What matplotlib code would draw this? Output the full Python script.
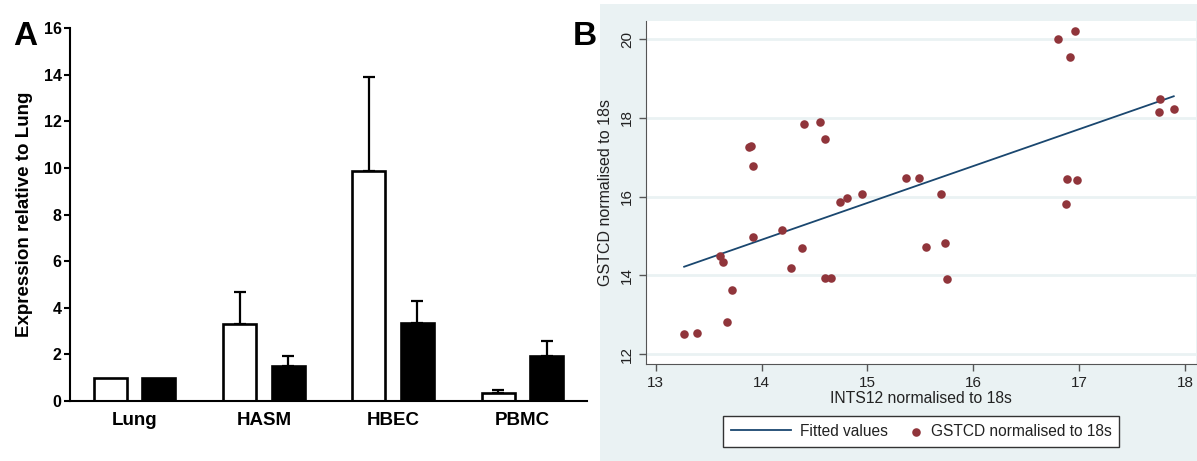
import numpy as np
import matplotlib.pyplot as plt
from matplotlib.patches import Rectangle
from matplotlib.collections import PathCollection
from matplotlib.legend_handler import HandlerPathCollection

plt.rcParams['font.family'] = ['Liberation Sans', 'DejaVu Sans']

# Panel A data
cells = ['Lung', 'HASM', 'HBEC', 'PBMC']
white_vals = [1.0, 3.30, 9.87, 0.36]
white_err = [0.0, 1.37, 4.06, 0.13]
black_vals = [1.0, 1.50, 3.37, 1.93]
black_err = [0.0, 0.45, 0.93, 0.63]

# Panel B data
ints12 = [13.27, 13.39, 13.67, 13.72, 13.61, 13.64, 13.88, 13.90, 13.92, 13.92,
          14.19, 14.28, 14.38, 14.40, 14.55, 14.60, 14.60, 14.66, 14.74, 14.81,
          14.95, 15.36, 15.49, 15.55, 15.69, 15.73, 15.75, 16.80, 16.91, 16.96,
          16.88, 16.98, 16.87, 17.76, 17.75, 17.89]
gstcd = [12.51, 12.54, 12.81, 13.64, 14.48, 14.35, 17.25, 17.30, 16.79, 14.97,
         15.15, 14.18, 14.69, 17.84, 17.91, 17.47, 13.93, 13.93, 15.86, 15.97,
         16.06, 16.47, 16.48, 14.72, 16.08, 14.82, 13.90, 20.00, 19.56, 20.20,
         16.46, 16.43, 15.82, 18.48, 18.16, 18.22]

W, H = 1197, 461
fig = plt.figure(figsize=(W / 100, H / 100), dpi=100)

def px(x0, y0, x1, y1):
    return [x0 / W, 1 - y1 / H, (x1 - x0) / W, (y1 - y0) / H]


class RightMarker(HandlerPathCollection):
    # put the dot at the right end of the handle box, next to its text
    def get_xdata(self, legend, xdescent, ydescent, width, height, fontsize):
        return [-xdescent, -xdescent + width], [-xdescent + width - 0.35 * fontsize]


# ---- Panel A ----
ax1 = fig.add_axes(px(70, 28.3, 587, 401))
x = np.arange(len(cells))
bw = 0.256
off = 0.188
ax1.bar(x - off, white_vals, bw, color='white', edgecolor='black', linewidth=1.9, zorder=2)
ax1.bar(x + off, black_vals, bw, color='black', edgecolor='black', linewidth=1.9, zorder=2)
for xi, v, e in zip(x - off, white_vals, white_err):
    if e > 0:
        ax1.errorbar(xi, v, yerr=[[0], [e]], color='black', lw=1.6, capsize=4.5,
                     capthick=1.6, zorder=1)
for xi, v, e in zip(x + off, black_vals, black_err):
    if e > 0:
        ax1.errorbar(xi, v, yerr=[[0], [e]], color='black', lw=1.6, capsize=4.5,
                     capthick=1.6, zorder=1)
ax1.set_xlim(-0.5, 3.5)
ax1.set_ylim(0, 16)
ax1.set_yticks(range(0, 17, 2))
ax1.set_xticks(x)
ax1.set_xticklabels(cells, fontsize=13.5, fontweight='bold')
ax1.tick_params(axis='x', length=0, pad=8)
ax1.tick_params(axis='y', length=4, width=1.5, labelsize=11.5, pad=2)
for lab in ax1.get_yticklabels():
    lab.set_fontweight('bold')
ax1.spines['top'].set_visible(False)
ax1.spines['right'].set_visible(False)
ax1.spines['left'].set_linewidth(1.5)
ax1.spines['bottom'].set_linewidth(1.5)
ax1.set_ylabel('Expression relative to Lung', fontsize=13.5, fontweight='bold', labelpad=8)
fig.text(13 / W, 1 - 45 / H, 'A', fontsize=24, fontweight='bold')

# ---- Panel B ----
bg = '#eaf2f3'
fig.patches.append(Rectangle((600 / W, 0), 1 - 600 / W, 1 - 4 / H,
                             transform=fig.transFigure, facecolor=bg, edgecolor='none',
                             zorder=-1))
ax2 = fig.add_axes(px(646, 21, 1196, 364.3))
ax2.set_facecolor('white')
slope, intercept = np.polyfit(ints12, gstcd, 1)
xf = np.array([min(ints12), max(ints12)])
ax2.plot(xf, intercept + slope * xf, color='#1a476f', lw=1.3, label='Fitted values', zorder=3)
ax2.scatter(ints12, gstcd, s=38, color='#90353b', label='GSTCD normalised to 18s', zorder=4,
            linewidths=0)
ax2.set_xlim(12.91, 18.10)
ax2.set_ylim(11.74, 20.465)
ax2.set_xticks(range(13, 19))
ax2.set_yticks(range(12, 21, 2))
ax2.grid(axis='y', color=bg, lw=2)
ax2.set_axisbelow(True)
ax2.tick_params(colors='#555555', labelcolor='#222222', labelsize=11, length=5, width=1)
for lab in ax2.get_yticklabels():
    lab.set_rotation(90)
    lab.set_va('center')
ax2.spines['top'].set_visible(False)
ax2.spines['right'].set_visible(False)
ax2.spines['left'].set_color('#555555')
ax2.spines['bottom'].set_color('#555555')
ax2.set_xlabel('INTS12 normalised to 18s', fontsize=11.3, color='#222222', labelpad=1)
ax2.set_ylabel('GSTCD normalised to 18s', fontsize=11.5, color='#222222', labelpad=5)
leg = ax2.legend(loc='upper center', bbox_to_anchor=(921 / W, 1 - 416 / H),
                 bbox_transform=fig.transFigure, ncol=2, frameon=True, fancybox=False,
                 fontsize=11.2, handlelength=3.86, handletextpad=0.6, columnspacing=-1.7,
                 borderpad=0.5, borderaxespad=0, scatterpoints=1,
                 handler_map={PathCollection: RightMarker()})
leg.get_frame().set_edgecolor('#333333')
leg.get_frame().set_linewidth(1)
leg.get_frame().set_facecolor('white')
leg.get_frame().set_alpha(1)
for t in leg.get_texts():
    t.set_color('#222222')

fig.text(573 / W, 1 - 45 / H, 'B', fontsize=24, fontweight='bold')

fig.savefig('out.png', dpi=100)
